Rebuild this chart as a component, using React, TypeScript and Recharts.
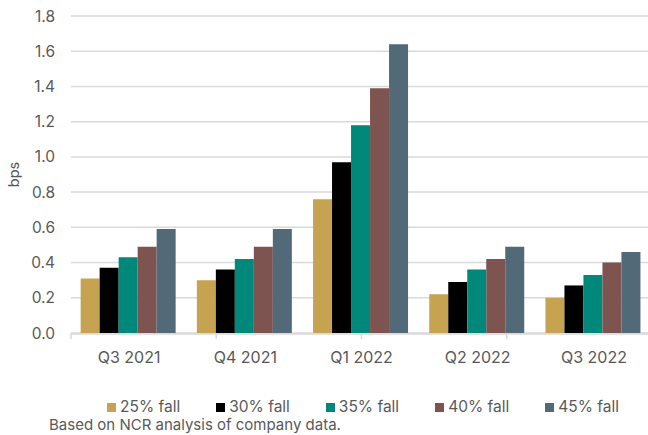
import { BarChart, Bar, XAxis, YAxis, CartesianGrid, Legend, Label } from "recharts"

const quarters = ["Q3 2021", "Q4 2021", "Q1 2022", "Q2 2022", "Q3 2022"]
const fall25 = [0.31, 0.3, 0.76, 0.22, 0.2]
const fall30 = [0.37, 0.36, 0.97, 0.29, 0.27]
const fall35 = [0.43, 0.42, 1.18, 0.36, 0.33]
const fall40 = [0.49, 0.49, 1.39, 0.42, 0.4]
const fall45 = [0.59, 0.59, 1.64, 0.49, 0.46]
const yTicks = [0, 0.2, 0.4, 0.6, 0.8, 1.0, 1.2, 1.4, 1.6, 1.8]
const boundaryTicks = [0, 1, 2, 3, 4, 5]

const data = quarters.map((q, i) => ({
  quarter: q,
  f25: fall25[i],
  f30: fall30[i],
  f35: fall35[i],
  f40: fall40[i],
  f45: fall45[i],
}))

const font = "Inter, 'Noto Sans', sans-serif"
const textColor = "#595959"
const gridColor = "#d9d9d9"

export default function App() {
  return (
    <div
      style={{
        position: "absolute",
        left: 0,
        top: 0,
        width: 648,
        height: 435,
        overflow: "hidden",
        background: "#fff",
        fontFamily: font,
      }}
    >
      <BarChart
        width={652}
        height={416}
        data={data}
        margin={{ top: 16, right: 0, bottom: 0, left: 0 }}
        barCategoryGap="8.3%"
        barGap={0}
      >
        <CartesianGrid xAxisId="q" vertical={false} stroke={gridColor} strokeWidth={1.5} />
        {/* tick marks between categories, like the spreadsheet original */}
        <XAxis
          xAxisId="a"
          type="number"
          domain={[0, 5]}
          ticks={boundaryTicks}
          tickFormatter={() => ""}
          height={1}
          axisLine={false}
          tickLine={{ stroke: gridColor, strokeWidth: 1.5 }}
          tickSize={6}
        />
        <XAxis
          xAxisId="q"
          dataKey="quarter"
          height={63}
          axisLine={{ stroke: gridColor, strokeWidth: 1.5 }}
          tickLine={false}
          tickMargin={12}
          tick={{ fill: textColor, fontSize: 16, fontFamily: font }}
        />
        <YAxis
          width={71}
          domain={[0, 1.8]}
          ticks={yTicks}
          tickFormatter={(v: number) => v.toFixed(1)}
          axisLine={false}
          tickLine={false}
          tickMargin={10}
          tick={{ fill: textColor, fontSize: 15.5, fontFamily: font }}
        >
          <Label
            value="bps"
            angle={-90}
            position="insideLeft"
            offset={14}
            style={{ fill: textColor, fontSize: 14.5, fontFamily: font, textAnchor: "middle" }}
          />
        </YAxis>
        <Legend
          iconType="square"
          iconSize={9}
          wrapperStyle={{ fontSize: 15.5, fontFamily: font, color: textColor, left: 55 }}
          formatter={(value: string) => <span style={{ color: textColor, marginRight: 26 }}>{value}</span>}
        />
        <Bar xAxisId="q" dataKey="f25" name="25% fall" fill="#C5A351" isAnimationActive={false} />
        <Bar xAxisId="q" dataKey="f30" name="30% fall" fill="#000000" isAnimationActive={false} />
        <Bar xAxisId="q" dataKey="f35" name="35% fall" fill="#00897A" isAnimationActive={false} />
        <Bar xAxisId="q" dataKey="f40" name="40% fall" fill="#7D5450" isAnimationActive={false} />
        <Bar xAxisId="q" dataKey="f45" name="45% fall" fill="#526A78" isAnimationActive={false} />
      </BarChart>
      <div
        style={{
          position: "absolute",
          left: 49,
          top: 415,
          fontSize: 15,
          color: textColor,
          fontFamily: font,
        }}
      >
        Based on NCR analysis of company data.
      </div>
    </div>
  )
}
